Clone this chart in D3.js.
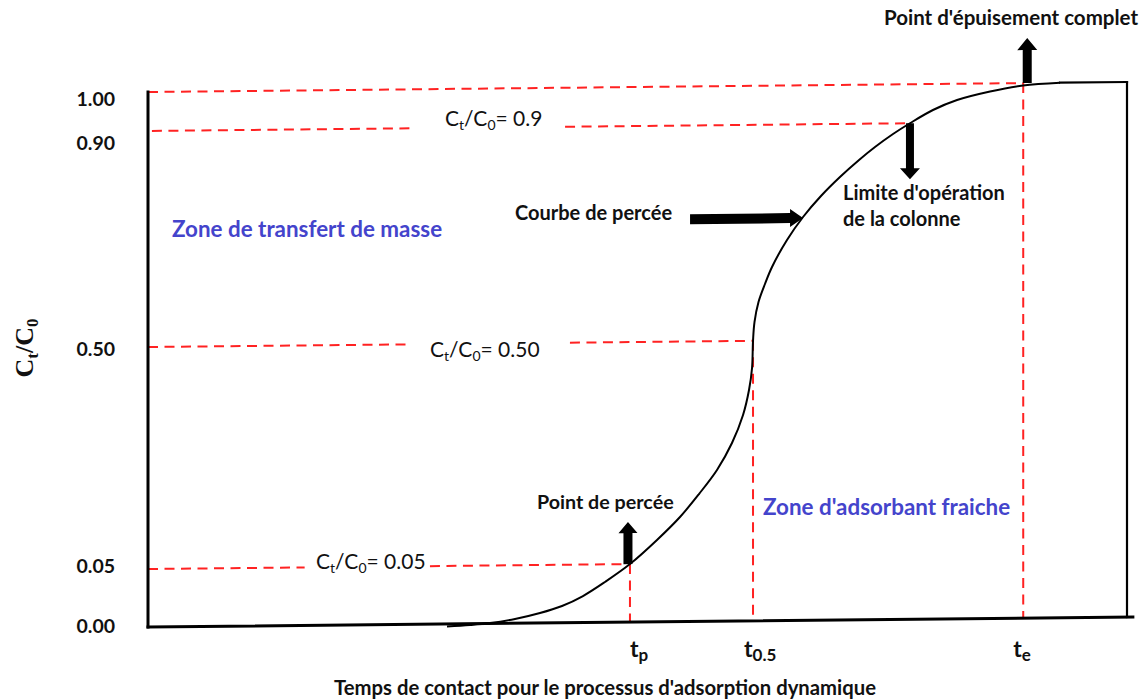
<!DOCTYPE html>
<html>
<head>
<meta charset="utf-8">
<script src="https://cdn.jsdelivr.net/npm/d3@7/dist/d3.min.js"></script>
<style>
  body { margin: 0; background: #fff; }
  text { font-family: Lato, "Open Sans", sans-serif; fill: #111; }
  .bold { font-weight: bold; }
  .blue { fill: #4444cc; }
</style>
</head>
<body>
<div id="chart"></div>
<script>
// C/C0 levels shown on the (schematic, non linear) vertical axis
var yTicks = [0, 0.05, 0.5, 0.9, 1.0];
var yTickLabels = ["0.00", "0.05", "0.50", "0.90", "1.00"];

// breakthrough curve, time in arbitrary units (0..100)
var curveT = [30.54, 32.89, 34.93, 37.49, 40.04, 42.29, 44.43, 46.68, 49.23, 51.99, 54.34, 56.28,
              58.12, 59.65, 60.78, 61.39, 61.70, 61.80, 61.95, 62.36, 63.02, 63.74, 65.27, 66.91,
              68.74, 70.68, 72.63, 74.26, 76.10, 77.83, 80.18, 82.64, 86.01, 89.38, 93.16];
var curveC = [-0.0022, -0.0011, 0.0004, 0.0037, 0.0086, 0.0145, 0.0229, 0.0348, 0.05, 0.0983, 0.1444, 0.1906,
              0.2389, 0.2933, 0.3499, 0.4004, 0.445, 0.5, 0.5348, 0.5718, 0.605, 0.6364, 0.6861, 0.7284,
              0.7669, 0.8017, 0.8329, 0.8566, 0.8804, 0.9, 0.9333, 0.9583, 0.9793, 0.9938, 1.0];

// characteristic times
var timeNames = ["p", "0.5", "e"];
var timeValues = [49.23, 61.8, 89.4];
var timeLevels = [0.05, 0.5, 1.0];
var t90 = 77.83;

var width = 1145, height = 700;

var x = d3.scaleLinear().domain([0, 100]).range([148, 1127]);
var y = d3.scaleLinear().domain(yTicks).range([627, 569, 347, 131, 92]);
// where the tick labels sit (slightly below their lines in the picture)
var yLab = d3.scaleLinear().domain(yTicks).range([626, 566, 349, 143, 99]);

var svg = d3.select("#chart").append("svg")
    .attr("width", width)
    .attr("height", height);

// the whole drawing is slightly tilted in the original
var plot = svg.append("g")
    .attr("transform", "translate(148,0) skewY(-0.584) translate(-148,0)");

var line = d3.line().x(function(d) { return x(d[0]); }).y(function(d) { return y(d[1]); });
var smooth = d3.line()
    .x(function(d) { return x(d[0]); })
    .y(function(d) { return y(d[1]); })
    .curve(d3.curveCatmullRom.alpha(0.5));

// red dashed guides: horizontal ones with a gap for their label
var guides = [
  {c: 1.0, segs: [[0, timeValues[2]]]},
  {c: 0.9, segs: [[0.4, 26.7], [42.6, t90]]},
  {c: 0.5, segs: [[0, 26.8], [43.1, timeValues[1]]]},
  {c: 0.05, segs: [[0, 16.0], [28.8, timeValues[0]]]}
];
guides.forEach(function(gd) {
  gd.segs.forEach(function(s) {
    plot.append("path")
      .attr("d", line([[s[0], gd.c], [s[1], gd.c]]))
      .attr("fill", "none")
      .attr("stroke", "#ff2222")
      .attr("stroke-width", 2)
      .attr("stroke-dasharray", "10,6.5");
  });
});
timeValues.forEach(function(t, i) {
  plot.append("path")
    .attr("d", line([[t, timeLevels[i]], [t, 0]]))
    .attr("fill", "none")
    .attr("stroke", "#ff2222")
    .attr("stroke-width", 2)
    .attr("stroke-dasharray", "10,6.5");
});

// frame
var frame = [
  [[0, 0], [0, 1]],
  [[0, 0], [100.6, 0]],
  [[100, 0], [100, 1]],
  [[93.16, 1], [100, 1]]
];
frame.forEach(function(f, i) {
  plot.append("path")
    .attr("d", line(f))
    .attr("fill", "none")
    .attr("stroke", "#000")
    .attr("stroke-width", i < 2 ? 3 : 2.2)
    .attr("stroke-linecap", "square");
});

// the breakthrough curve
plot.append("path")
  .datum(d3.zip(curveT, curveC))
  .attr("d", smooth)
  .attr("fill", "none")
  .attr("stroke", "#000")
  .attr("stroke-width", 2);

// thick arrows
function arrowPath(len, shaft, headW, headL) {
  var b = len - headL;
  return "M0," + (-shaft / 2) + "L" + b + "," + (-shaft / 2) + "L" + b + "," + (-headW / 2) +
         "L" + len + ",0L" + b + "," + (headW / 2) + "L" + b + "," + (shaft / 2) + "L0," + (shaft / 2) + "Z";
}
function arrow(px, py, angle, len, shaft, headW, headL) {
  plot.append("path")
    .attr("d", arrowPath(len, shaft, headW, headL))
    .attr("transform", "translate(" + px + "," + py + ") rotate(" + angle + ")")
    .attr("fill", "#000");
}
arrow(x(timeValues[2]) + 4, y(1), -90, 45, 9, 20, 12);
arrow(x(t90), y(0.9), 90, 56, 8, 20, 11);
arrow(x(timeValues[0]) - 2, y(0.05), -90, 42, 9, 19, 11);
arrow(x(66.91) - 113, y(0.7284) + 1, 0, 113, 10, 18, 13);

// tick labels
var yAxis = d3.axisLeft(yLab)
    .tickValues(yTicks)
    .tickSize(0)
    .tickPadding(9)
    .tickFormat(function(d, i) { return yTickLabels[i]; });
var ya = svg.append("g").attr("transform", "translate(124,0)").call(yAxis);
ya.select(".domain").remove();
ya.selectAll("text")
    .attr("font-family", "Lato, sans-serif")
    .attr("font-weight", "bold")
    .attr("font-size", 19.5)
    .attr("fill", "#111");

// y axis title C_t/C_0
var yt = svg.append("text")
    .attr("transform", "translate(33,348) rotate(-90)")
    .attr("text-anchor", "middle")
    .style("font-family", "'Liberation Serif', serif")
    .attr("font-weight", "bold")
    .attr("font-size", 26);
yt.append("tspan").text("C");
yt.append("tspan").text("t").attr("font-size", 17).attr("dy", 5);
yt.append("tspan").text("/C").attr("dy", -5);
yt.append("tspan").text("0").attr("font-size", 17).attr("dy", 5);

// C_t/C_0 = value labels
function ratioLabel(px, py, value) {
  var t = svg.append("text")
      .attr("x", px).attr("y", py)
      .attr("font-size", 21);
  t.append("tspan").text("C");
  t.append("tspan").text("t").attr("font-size", 14).attr("dy", 4);
  t.append("tspan").text("/C").attr("dy", -4);
  t.append("tspan").text("0").attr("font-size", 14).attr("dy", 4);
  t.append("tspan").text("= " + value).attr("dy", -4);
}
ratioLabel(445, 126, "0.9");
ratioLabel(430, 357, "0.50");
ratioLabel(316, 569, "0.05");

// other annotations
function note(px, py, str, cls, size) {
  svg.append("text")
    .attr("x", px).attr("y", py)
    .attr("class", cls)
    .attr("font-size", size)
    .text(str);
}
note(884, 25, "Point d'épuisement complet", "bold", 20.5);
note(515, 220, "Courbe de percée", "bold", 20);
note(843, 200, "Limite d'opération", "bold", 20);
note(843, 226, "de la colonne", "bold", 20);
note(172, 237, "Zone de transfert de masse", "bold blue", 22.4);
note(537, 509, "Point de percée", "bold", 19.7);
note(763, 515, "Zone d'adsorbant fraiche", "bold blue", 22.4);

// time labels t_p, t_0.5, t_e
var timeShift = [0, -9, -10];
timeValues.forEach(function(t, i) {
  var tx = svg.append("text")
      .attr("x", x(t) + timeShift[i]).attr("y", 657)
      .attr("class", "bold")
      .attr("font-size", 23);
  tx.append("tspan").text("t");
  tx.append("tspan").text(timeNames[i]).attr("font-size", 17).attr("dy", 4);
});

// x axis title
svg.append("text")
  .attr("x", 605).attr("y", 695)
  .attr("text-anchor", "middle")
  .attr("class", "bold")
  .attr("font-size", 20.3)
  .text("Temps de contact pour le processus d'adsorption dynamique");
</script>
</body>
</html>
